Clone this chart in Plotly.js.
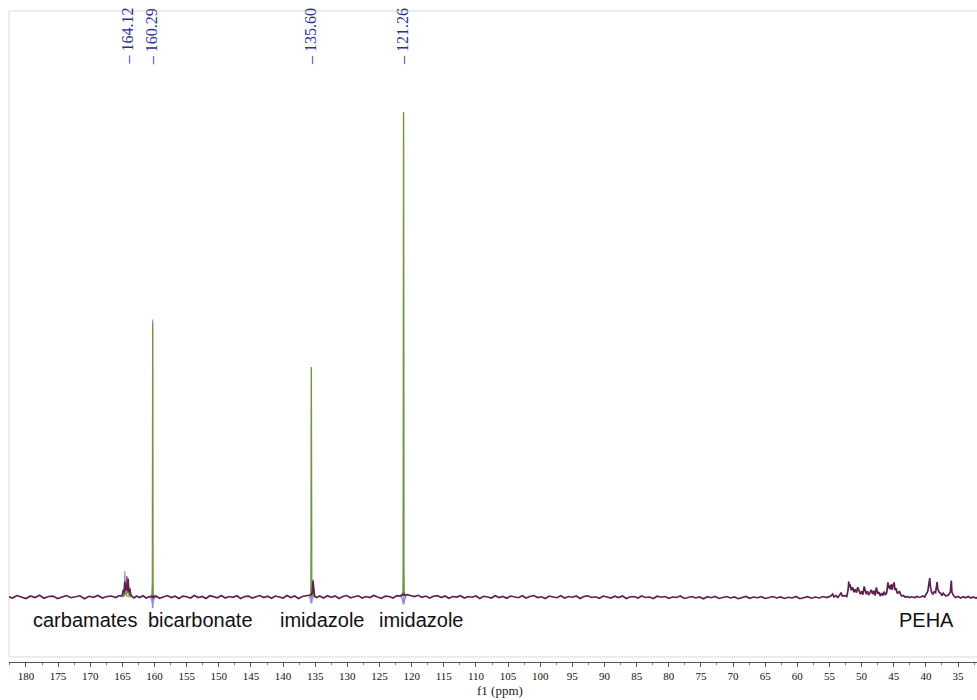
<!DOCTYPE html>
<html>
<head>
<meta charset="utf-8">
<script src="https://cdn.plot.ly/plotly-3.0.1.min.js"></script>
<style>html,body{margin:0;padding:0;background:#fff;}#chart{width:977px;height:700px;}</style>
</head>
<body>
<div id="chart"></div>
<script>
// ---- Data (chemical shift in ppm, relative intensity; tallest peak = 100) ----
const baselinePpm = [182.8,182.1,181.4,180.7,180.0,179.3,178.6,177.9,177.2,176.5,175.8,175.1,174.4,173.7,173.0,172.3,171.6,170.9,170.2,169.5,168.8,168.1,167.4,166.7,166.0,165.5,
165.2,165.0,164.85,164.75,164.6,164.5,164.35,164.2,164.12,164.0,163.85,163.7,163.5,163.2,
162.8,162.3,161.8,161.3,160.8,160.4,160.29,160.2,159.8,159.2,158.6,
158.0,157.4,156.8,156.2,155.6,155.0,154.4,153.8,153.2,152.6,152.0,151.4,150.8,150.2,149.6,149.0,148.4,147.8,147.2,146.6,146.0,145.4,144.8,144.2,143.6,143.0,142.4,141.8,141.2,140.6,140.0,139.4,138.8,138.2,137.6,137.0,136.5,136.0,135.8,135.6,135.45,135.35,135.25,135.1,134.8,134.3,
133.7,133.1,132.5,131.9,131.3,130.7,130.1,129.5,128.9,128.3,127.7,127.1,126.5,125.9,125.3,124.7,124.1,123.5,122.9,122.3,121.8,121.5,121.26,121.0,120.7,120.2,119.6,119.0,118.4,117.8,117.2,116.6,116.0,115.4,114.8,114.2,113.6,113.0,112.4,111.8,111.2,110.6,110.0,109.4,108.8,108.2,107.6,107.0,106.4,105.8,105.2,104.6,104.0,103.4,102.8,102.2,101.6,101.0,100.4,99.8,99.2,98.6,98.0,97.4,96.8,96.2,95.6,95.0,94.4,93.8,93.2,92.6,92.0,91.4,90.8,90.2,89.6,89.0,88.4,87.8,87.2,86.6,86.0,85.4,84.8,84.2,83.6,83.0,82.4,81.8,81.2,80.6,80.0,79.4,78.8,78.2,77.6,77.0,76.4,75.8,75.2,74.6,74.0,73.4,72.8,72.2,71.6,71.0,70.4,69.8,69.2,68.6,68.0,67.4,66.8,66.2,65.6,65.0,64.4,63.8,63.2,62.6,62.0,61.4,60.8,60.2,59.6,59.0,58.4,57.8,57.2,56.6,56.0,55.4,54.8,54.5,54.3,54.0,53.7,53.4,53.2,53.0,52.6,52.3,52.1,52.0,51.9,51.8,51.6,51.4,51.2,51.0,50.8,50.6,50.4,50.2,50.0,49.8,49.6,49.45,49.3,49.1,48.9,48.7,48.5,48.3,48.1,47.9,47.7,47.5,47.3,47.1,46.9,46.7,46.5,46.3,46.1,45.9,45.8,45.7,45.55,45.4,45.25,45.1,44.95,44.8,44.65,44.5,44.4,44.3,44.1,43.9,43.7,43.5,43.2,42.9,42.6,42.3,42.0,41.7,41.4,41.1,40.8,40.5,40.2,39.9,39.7,39.5,39.4,39.3,39.1,38.9,38.7,38.5,38.35,38.25,38.15,37.9,37.7,37.5,37.3,37.1,36.9,36.5,36.2,36.05,35.95,35.7,35.4,35.0,34.6,34.2,33.8,33.4,33.0,32.6,32.2,31.8];
const baselineInt = [0.1,-0.2,0.3,0.0,-0.3,0.2,-0.1,0.35,-0.25,0.1,0.2,-0.3,0.05,0.3,-0.15,0.0,0.25,-0.35,0.15,-0.05,0.3,-0.2,0.1,0.2,-0.1,0.3,
0.2,0.5,1.5,0.8,3.2,1.5,2.6,1.2,3.8,1.0,1.8,0.5,0.1,-0.2,
0.2,-0.1,0.25,-0.2,0.1,0.0,0.3,-0.1,0.2,-0.25,0.1,
0.3,-0.1,0.15,-0.3,0.2,0.05,-0.2,0.3,-0.1,0.1,-0.3,0.25,0.0,-0.15,0.3,-0.2,0.1,-0.05,0.25,-0.3,0.1,0.2,-0.2,0.05,0.3,-0.1,0.15,-0.25,0.2,0.0,-0.2,0.3,-0.1,0.2,-0.3,0.1,0.2,0.3,0.4,0.6,0.9,3.3,1.0,0.2,-0.1,0.2,
-0.2,0.25,-0.05,0.2,-0.3,0.1,0.3,-0.15,0.05,0.25,-0.2,0.1,-0.1,0.3,0.0,-0.25,0.2,0.1,-0.2,0.3,0.2,0.4,0.6,0.3,0.5,0.3,0.1,0.35,-0.05,0.2,-0.2,0.15,0.3,-0.1,0.2,-0.25,0.1,0.0,0.25,-0.2,0.1,-0.05,0.2,-0.3,0.15,0.0,-0.2,0.25,-0.1,0.1,-0.25,0.2,0.05,-0.15,0.25,-0.2,0.1,0.3,-0.1,0.05,-0.3,0.2,0.0,-0.15,0.25,-0.2,0.1,-0.05,0.2,-0.3,0.1,0.25,-0.1,0.05,-0.25,0.2,0.0,-0.2,0.15,-0.1,0.2,-0.3,0.05,0.1,-0.2,0.2,-0.1,0.0,-0.3,0.15,-0.05,0.1,-0.25,0.0,-0.1,0.2,-0.3,-0.05,0.1,-0.2,0.0,-0.35,0.05,-0.15,0.1,-0.3,-0.05,0.1,-0.2,0.0,-0.35,-0.1,0.1,-0.25,0.0,-0.15,0.05,-0.3,-0.1,0.1,-0.2,0.0,-0.3,-0.05,-0.2,0.1,-0.35,-0.1,0.05,-0.25,0.0,-0.2,0.1,-0.1,0.2,0.6,0.0,0.3,-0.1,0.4,0.9,0.2,0.3,0.1,1.5,3.2,2.0,2.6,1.4,2.0,1.0,1.6,0.9,2.0,1.1,0.6,1.2,0.5,2.2,0.9,0.6,1.2,0.4,0.9,1.5,0.6,1.3,0.3,2.0,0.7,1.0,0.2,0.8,0.3,1.1,0.4,0.9,3.0,1.8,2.4,1.6,2.6,1.5,2.5,3.0,1.4,1.8,1.0,0.7,0.9,1.2,0.4,0.2,0.3,-0.05,0.1,-0.1,0.05,0.0,-0.1,0.1,-0.05,0.0,0.2,0.0,0.6,1.2,3.0,3.9,2.2,0.9,0.6,1.1,0.9,2.0,3.1,1.6,0.9,0.8,0.3,0.8,0.4,0.2,0.4,1.0,3.4,1.0,0.3,-0.1,0.1,-0.2,0.05,-0.15,0.1,-0.2,0.0,-0.25,0.1];

const greenPpm = [165.0,164.7,164.5,164.35,164.15,163.95,163.7,null,
160.6,160.4,160.34,160.29,160.24,160.18,160.0,null,
135.9,135.7,135.65,135.6,135.55,135.5,135.3,null,
121.6,121.36,121.31,121.26,121.21,121.16,120.9];
const greenInt = [0,0.3,1.2,0.4,1.6,0.3,0,null,
0,0.6,3.0,56.5,3.0,0.6,0,null,
0,0.5,2.5,47.4,2.5,0.5,0,null,
0,1.0,5.0,100,5.0,1.0,0];

const lavenderPpm = [165.0,164.75,164.62,164.5,164.3,164.0,null,
160.8,160.5,160.36,160.31,160.29,160.27,160.22,160.08,159.8,null,
135.95,135.75,135.64,135.6,135.56,135.45,135.25,null,
121.65,121.45,121.3,121.26,121.22,121.07,120.87];
const lavenderInt = [0,0.5,5.3,0.6,0.2,0,null,
0,-0.4,-1.2,-2.3,57.2,-2.3,-1.2,-0.4,0,null,
0,-0.4,-1.3,47.0,-1.3,-0.4,0,null,
0,-0.5,-1.5,99.5,-1.5,-0.5,0];

const redPpm = [165.0,164.7,164.55,164.45,164.3,164.2,164.05,163.9,163.7,null,
135.5,135.38,135.33,135.27,135.1];
const redInt = [0,0.6,2.6,1.0,4.3,1.5,2.2,0.5,0,null,
0,1.2,3.6,1.0,0];

const peakLabels = [164.12, 160.29, 135.60, 121.26];
const regionNames = ["carbamates", "bicarbonate", "imidazole", "imidazole", "PEHA"];
const regionPpm = [170.8, 152.9, 134.0, 118.6, 39.9];
const xTitle = "f1 (ppm)";

// ---- Layout helpers ----
const W = 977, H = 700, ML = 9, MR = 0, MT = 11, MB = 38;
const plotH = H - MT - MB;
const py = (pix) => (H - MB - pix) / plotH;   // pixel row -> paper y
const px = (pix) => (pix - ML) / (W - ML - MR); // pixel col -> paper x

function tr(x, y, color, width) {
  return {x: x, y: y, type: 'scatter', mode: 'lines', connectgaps: false,
          line: {color: color, width: width}, hoverinfo: 'skip', showlegend: false};
}

const traces = [
  tr(lavenderPpm, lavenderInt, '#8c8ce6', 1.2),
  tr(redPpm, redInt, '#a8463a', 1.2),
  tr(greenPpm, greenInt, '#75993a', 1.3),
  tr(baselinePpm, baselineInt, '#5b2150', 1.7)
];

const annotations = [];
peakLabels.forEach(v => {
  annotations.push({
    xref: 'x', yref: 'paper', x: v + 0.15, y: py(67),
    xanchor: 'center', yanchor: 'bottom', textangle: -90,
    text: '\u2013 ' + v.toFixed(2), showarrow: false,
    font: {family: 'Liberation Serif, Times New Roman, serif', size: 16, color: '#2b318c'}
  });
});
regionNames.forEach((t, i) => {
  annotations.push({
    xref: 'x', yref: 'paper', x: regionPpm[i], y: py(620),
    xanchor: 'center', yanchor: 'middle', text: t, showarrow: false,
    font: {family: 'Liberation Sans, Arial, sans-serif', size: 20, color: '#111'}
  });
});
annotations.push({
  xref: 'paper', yref: 'paper', x: px(500), y: py(690),
  xanchor: 'center', yanchor: 'middle', text: xTitle, showarrow: false,
  font: {family: 'Liberation Serif, Times New Roman, serif', size: 13, color: '#222'}
});

const layout = {
  width: W, height: H,
  margin: {l: ML, r: MR, t: MT, b: MB, pad: 0},
  paper_bgcolor: '#fff', plot_bgcolor: '#fff',
  showlegend: false,
  xaxis: {
    range: [182.64, 32.05], autorange: false,
    tick0: 0, dtick: 5, ticks: 'outside', ticklen: 4, tickwidth: 1, tickcolor: '#555',
    minor: {dtick: 2.5, ticks: 'outside', ticklen: 2, tickcolor: '#777', showgrid: false},
    showline: true, linecolor: '#555', linewidth: 1,
    showgrid: false, zeroline: false,
    tickfont: {family: 'Liberation Serif, Times New Roman, serif', size: 11, color: '#111'}
  },
  yaxis: {range: [-13.40, 120.82], autorange: false, visible: false, showgrid: false, zeroline: false},
  shapes: [{
    type: 'rect', xref: 'paper', yref: 'paper', x0: 0, x1: 1.05, y0: py(657), y1: 1,
    line: {color: '#d9d9d9', width: 1}, fillcolor: 'rgba(0,0,0,0)', layer: 'below'
  }],
  annotations: annotations
};

Plotly.newPlot('chart', traces, layout, {displayModeBar: false, staticPlot: true});
</script>
</body>
</html>
